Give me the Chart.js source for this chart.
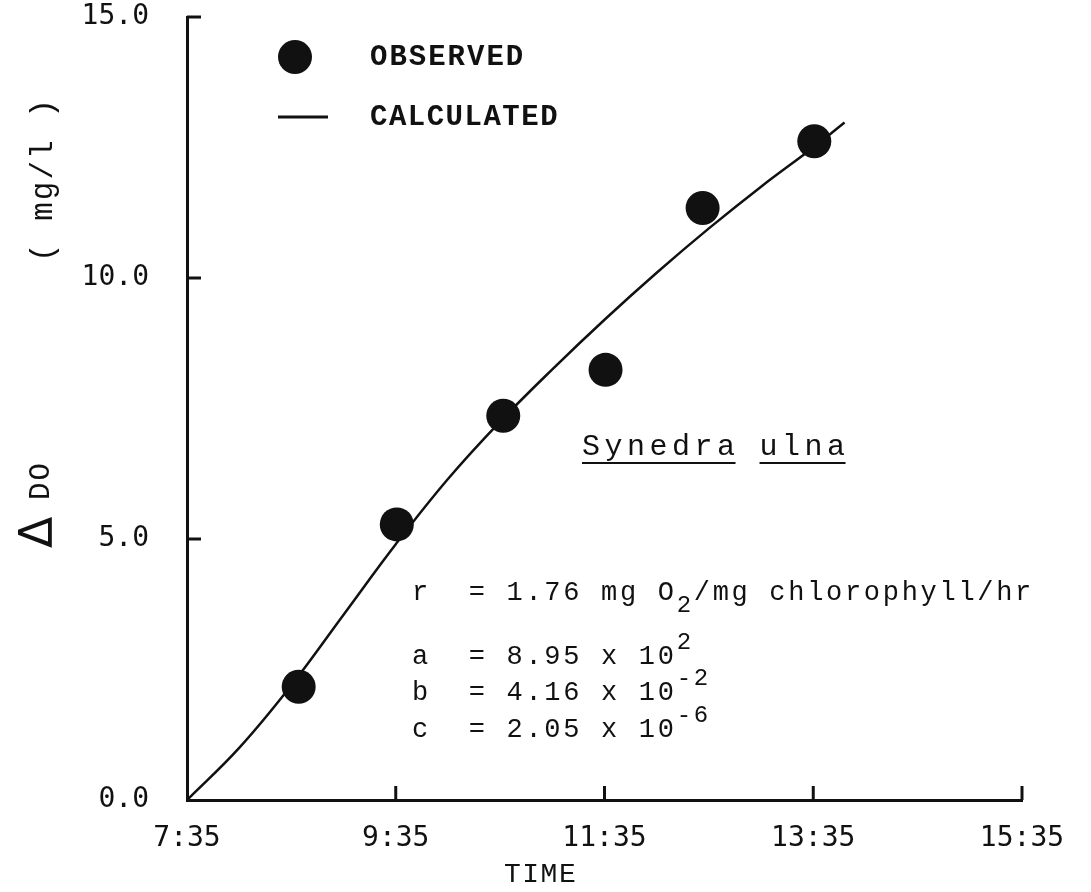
<!DOCTYPE html>
<html>
<head>
<meta charset="utf-8">
<script src="https://cdn.jsdelivr.net/npm/chart.js@4/dist/chart.umd.min.js"></script>
<style>
  body { margin: 0; background: #fff; }
  canvas { display: block; }
</style>
</head>
<body>
<canvas id="doChart" width="1091" height="892"></canvas>
<script>
// observed points, hours after 7:35
const obsHours = [1.07, 2.01, 3.03, 4.01, 4.94, 6.01];
const obsDO = [2.17, 5.28, 7.36, 8.24, 11.34, 12.62];

// calculated curve
const calcHours = [0, 0.5, 1, 1.5, 2, 2.5, 3, 3.5, 4, 4.5, 5, 5.5, 6, 6.3];
const calcDO = [0, 1.0, 2.2, 3.55, 4.9, 6.15, 7.25, 8.25, 9.2, 10.1, 10.95, 11.75, 12.5, 12.98];

const xTickHours = [0, 2, 4, 6, 8];
const yTickValues = [0, 5, 10, 15];
const startClock = 7 * 60 + 35;

const ink = '#111';

function clockLabel(h){
  let m = Math.round(startClock + h * 60);
  let hh = Math.floor(m / 60);
  let mm = m % 60;
  return hh + ':' + (mm < 10 ? '0' + mm : mm);
}

// draws typed text char by char so the spacing looks like a typewriter
function typeText(ctx, str, x, y, font, spacing){
  ctx.font = font;
  for (const ch of str) {
    ctx.fillText(ch, x, y);
    x += ctx.measureText(ch).width + spacing;
  }
  return x;
}

const paperPlugin = {
  id: 'paper',
  afterDraw(chart){
    const ctx = chart.ctx;
    const xs = chart.scales.x, ys = chart.scales.y;
    const x0 = xs.getPixelForValue(0), y0 = ys.getPixelForValue(0);
    ctx.save();
    ctx.strokeStyle = ink;
    ctx.fillStyle = ink;

    // inward tick marks
    ctx.lineWidth = 3;
    yTickValues.slice(1).forEach(v => {
      const py = ys.getPixelForValue(v);
      ctx.beginPath(); ctx.moveTo(x0, py); ctx.lineTo(x0 + 14, py); ctx.stroke();
    });
    xTickHours.slice(1).forEach(v => {
      const px = xs.getPixelForValue(v);
      ctx.beginPath(); ctx.moveTo(px, y0); ctx.lineTo(px, y0 - 14); ctx.stroke();
    });

    // legend
    ctx.beginPath(); ctx.arc(295, 57, 17, 0, Math.PI * 2); ctx.fill();
    ctx.lineWidth = 3;
    ctx.beginPath(); ctx.moveTo(278, 117); ctx.lineTo(328, 117); ctx.stroke();
    ctx.textBaseline = 'middle';
    typeText(ctx, 'OBSERVED', 370, 58, 'bold 29px "Liberation Mono"', 2);
    typeText(ctx, 'CALCULATED', 370, 118, 'bold 29px "Liberation Mono"', 1.5);

    // species name, underlined word by word
    ctx.textBaseline = 'alphabetic';
    let sx = 582;
    let ex = typeText(ctx, 'Synedra', sx, 455, '30px "Liberation Mono"', 4.5);
    ctx.lineWidth = 2;
    ctx.beginPath(); ctx.moveTo(sx, 463); ctx.lineTo(ex - 4, 463); ctx.stroke();
    sx = ex + 20;
    ex = typeText(ctx, 'ulna', sx, 455, '30px "Liberation Mono"', 4.5);
    ctx.beginPath(); ctx.moveTo(sx, 463); ctx.lineTo(ex - 4, 463); ctx.stroke();

    // parameters
    const pf = '27px "Liberation Mono"', sf = '24px "Liberation Mono"', sp = 2.7;
    let px = typeText(ctx, 'r  = 1.76 mg O', 412, 600, pf, sp);
    px = typeText(ctx, '2', px, 612, sf, sp);
    typeText(ctx, '/mg chlorophyll/hr', px, 600, pf, sp);
    [['a  = 8.95 x 10', '2', 664], ['b  = 4.16 x 10', '-2', 700], ['c  = 2.05 x 10', '-6', 737]].forEach(r => {
      let qx = typeText(ctx, r[0], 412, r[2], pf, sp);
      typeText(ctx, r[1], qx, r[2] - 15, sf, sp);
    });

    // axis titles
    typeText(ctx, 'TIME', 504, 882, '28px "Liberation Mono"', 1.5);
    ctx.translate(52, 0);
    ctx.rotate(-Math.PI / 2);
    ctx.textBaseline = 'alphabetic';
    typeText(ctx, '\u0394', -548, 0, '46px "DejaVu Sans"', 0);
    typeText(ctx, 'DO', -500, -3, '29px "Liberation Mono"', 2);
    typeText(ctx, '( mg/l )', -262, 0, '31px "Liberation Mono"', 2);
    ctx.restore();
  }
};

new Chart(document.getElementById('doChart'), {
  type: 'scatter',
  data: {
    datasets: [
      {
        label: 'OBSERVED',
        data: obsHours.map((h, i) => ({x: h, y: obsDO[i]})),
        pointRadius: 17,
        pointBackgroundColor: ink,
        pointBorderWidth: 0,
        showLine: false,
        clip: false,
      },
      {
        label: 'CALCULATED',
        data: calcHours.map((h, i) => ({x: h, y: calcDO[i]})),
        showLine: true,
        borderColor: ink,
        borderWidth: 2.5,
        pointRadius: 0,
        tension: 0.4,
        clip: false,
      },
    ],
  },
  options: {
    responsive: false,
    devicePixelRatio: 1,
    animation: false,
    layout: { padding: { top: 15, right: 69, left: 0, bottom: 0 } },
    plugins: {
      legend: { display: false },
      tooltip: { enabled: false },
    },
    scales: {
      x: {
        type: 'linear',
        min: 0,
        max: 8,
        afterBuildTicks: s => { s.ticks = xTickHours.map(v => ({value: v})); },
        afterFit: s => { s.height = 92; s.paddingLeft = 0; s.paddingRight = 0; },
        ticks: {
          callback: v => clockLabel(v),
          font: { family: '"DejaVu Sans Mono"', size: 28 },
          color: ink,
          padding: 14,
          maxRotation: 0,
        },
        grid: { display: false },
        border: { display: true, color: ink, width: 3 },
      },
      y: {
        min: 0,
        max: 15,
        afterBuildTicks: s => { s.ticks = yTickValues.map(v => ({value: v})); },
        afterFit: s => { s.width = 187; s.paddingTop = 0; s.paddingBottom = 0; },
        ticks: {
          callback: v => v.toFixed(1),
          font: { family: '"DejaVu Sans Mono"', size: 28 },
          color: ink,
          padding: 30,
        },
        grid: { display: false },
        border: { display: true, color: ink, width: 3 },
      },
    },
  },
  plugins: [paperPlugin],
});
</script>
</body>
</html>
